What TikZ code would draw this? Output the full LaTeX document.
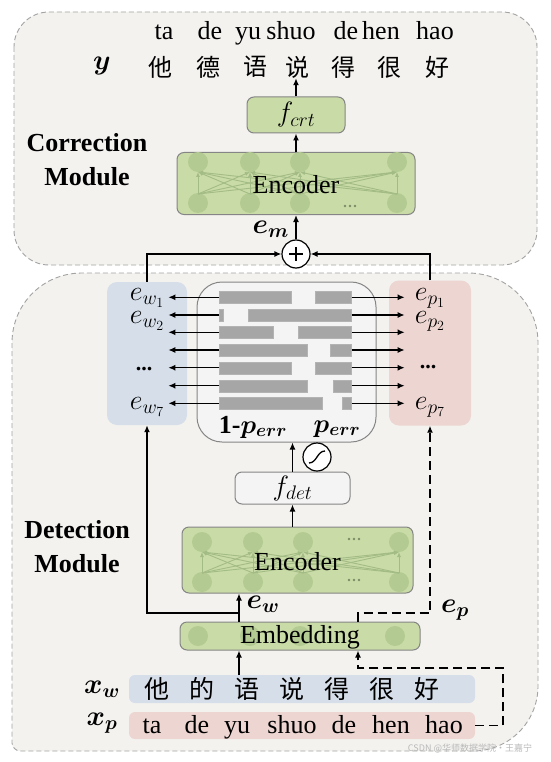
\RequirePackage{fix-cm}
\documentclass[tikz,border=0pt]{standalone}
\usepackage{amsmath,bm}
\usepackage{fontspec}
\setmainfont{Liberation Serif}
\newfontfamily\cjk{Noto Sans CJK SC}
\usetikzlibrary{arrows.meta,calc}
\definecolor{modbg}{HTML}{F3F2EF}
\definecolor{modline}{HTML}{A3A3A3}
\definecolor{greenf}{HTML}{C9DBA6}
\definecolor{greenc}{HTML}{B3CA93}
\definecolor{greena}{HTML}{A3BB85}
\definecolor{boxline}{HTML}{858585}
\definecolor{bluef}{HTML}{D5DEE9}
\definecolor{pinkf}{HTML}{EDD5D1}
\definecolor{barc}{HTML}{A6A6A6}
\definecolor{midf}{HTML}{F4F4F4}
\tikzset{
  module/.style={draw=modline, fill=modbg, line width=0.9pt, dash pattern=on 5pt off 3pt},
  greenbox/.style={draw=boxline, fill=greenf, line width=1pt, rounded corners=7pt, inner sep=0pt},
  whitebox/.style={draw=boxline, fill=midf, line width=1pt, rounded corners=7pt, inner sep=0pt},
  colbox/.style={rounded corners=10pt, inner sep=0pt},
  arr/.style={line width=1.4pt, -{Latex[length=7pt,width=6pt]}},
  darr/.style={line width=1.6pt, dash pattern=on 9pt off 5pt, -{Latex[length=7pt,width=6pt]}},
  encarr/.style={draw=greena, line width=0.9pt, -{Latex[length=5pt,width=4pt]}},
  bar/.style={fill=barc, draw=barc!85!white, line width=0.4pt, minimum height=12pt, inner sep=0pt},
  txt/.style={font=\fontsize{26}{30}\selectfont, inner sep=0pt},
  cjktxt/.style={font=\cjk\fontsize{24}{28}\selectfont, inner sep=0pt},
  mathlbl/.style={font=\fontsize{28}{32}\selectfont, inner sep=0pt},
  modlabel/.style={font=\bfseries\fontsize{26}{34}\selectfont, align=center, inner sep=0pt},
  circ/.style={circle, draw=black, fill=white, line width=1.2pt, minimum size=28pt, inner sep=0pt},
  dotc/.style={fill=greena!75!black}
}
\newcommand\encdots[2]{\foreach \dd in {-5,0,5}{\fill[dotc] (#1+\dd,#2) circle[radius=1.4];}}
\begin{document}
\begin{tikzpicture}[x=1pt,y=-1pt]
\useasboundingbox (0,0) rectangle (550,762);
\fill[white] (0,0) rectangle (550,762);

% module backgrounds
\draw[module, rounded corners=35pt] (14,12) rectangle (537,265);
\draw[module] (12,500) -- (12,343) .. controls (12,304) and (43,273) .. (82,273)
  -- (468,273) .. controls (507,273) and (538,304) .. (538,343)
  -- (538,686) .. controls (538,722) and (509,751) .. (473,751)
  -- (20,751) .. controls (16,751) and (12,747) .. (12,743) -- cycle;

\node[modlabel] (corr) at (87,160) {Correction\\Module};
\node[modlabel] (det) at (77,547) {Detection\\Module};

% output text
\foreach \x/\w [count=\i] in {164/ta,210/de,248/yu,291/shuo,346/de,381/hen,435/hao}
  \node[txt, anchor=base] (py\i) at (\x,40) {\w};
\foreach \x/\c [count=\i] in {160/他,208/德,255/语,297/说,343/得,389/很,437/好}
  \node[cjktxt] (y\i) at (\x,67) {\c};
\node[mathlbl] (ylbl) at (102,66) {$\bm{y}$};

% f_crt and encoder 1
\node[greenbox, minimum width=98pt, minimum height=36pt] (fcrt) at (296,115) {};
\node[mathlbl] (fcrtt) at (fcrt) {$f_{crt}$};
\node[greenbox, minimum width=238pt, minimum height=62pt] (enc1) at (296,183.5) {};
\foreach \x in {198,250,300,397} {
  \fill[greenc] (\x,162) circle[radius=10];
  \fill[greenc] (\x,203) circle[radius=10];
}
\foreach \a in {198,250,300,397}
  \foreach \b in {198,250,300,397}
    \draw[encarr] (\a,194) -- (\b,172);
\encdots{350}{206}
\node[txt] (enc1t) at (296,185) {Encoder};

% plus
\node[circ] (plus) at (296,254) {};
\draw[line width=1.4pt] ($(plus.center)+(-7,0)$) -- ($(plus.center)+(7,0)$);
\draw[line width=1.4pt] ($(plus.center)+(0,-7)$) -- ($(plus.center)+(0,7)$);

\draw[arr] (plus.north) -- (enc1.south);
\draw[arr] (enc1.north) -- (fcrt.south);
\draw[arr] (fcrt.north) -- (fcrt.north |- y4.south);
\node[mathlbl, anchor=east] (em) at (289,229) {$\bm{e_m}$};

% columns
\node[colbox, fill=bluef, minimum width=80pt, minimum height=143pt] (ewbox) at (147,353.5) {};
\node[colbox, fill=pinkf, minimum width=82pt, minimum height=145pt] (epbox) at (430,353) {};
\node[whitebox, rounded corners=25pt, minimum width=179pt, minimum height=160pt] (mid) at (286.5,362) {};

\draw[arr] (ewbox.north) |- (plus.west);
\draw[arr] (epbox.north) |- (plus.east);

\foreach \y/\l/\r [count=\i] in {297.3/291/315.7, 315/223.3/248.3, 332.3/272.7/298.3, 350/307.3/330, 367.7/291/315.7, 385.7/307.3/333.3, 403.3/322.3/342.3} {
  \pgfmathsetmacro\wl{\l-219.3}
  \pgfmathsetmacro\wr{351.7-\r}
  \node[bar, anchor=west, minimum width=\wl pt] (bl\i) at (219.3,\y) {};
  \node[bar, anchor=east, minimum width=\wr pt] (br\i) at (351.7,\y) {};
  \draw[arr] (bl\i.west) -- ++(-51,0);
  \draw[arr] (br\i.east) -- ++(53,0);
}

\node[mathlbl, anchor=base] (ew1) at (147,300) {$e_{w_1}$};
\node[mathlbl, anchor=base] (ew2) at (147,323) {$e_{w_2}$};
\node[txt, font=\bfseries\fontsize{22}{24}\selectfont, anchor=base] (ewd) at (144,370) {...};
\node[mathlbl, anchor=base] (ew7) at (147,409) {$e_{w_7}$};
\node[mathlbl, anchor=base] (ep1) at (430,300) {$e_{p_1}$};
\node[mathlbl, anchor=base] (ep2) at (430,323) {$e_{p_2}$};
\node[txt, font=\bfseries\fontsize{22}{24}\selectfont, anchor=base] (epd) at (428,368) {...};
\node[mathlbl, anchor=base] (ep7) at (430,409) {$e_{p_7}$};

\node[txt, anchor=base] (pneg) at (253,433) {\textbf{1-}$\bm{p_{err}}$};
\node[txt, anchor=base] (ppos) at (337,432) {$\bm{p_{err}}$};

% f_det and sigmoid
\node[whitebox, minimum width=115pt, minimum height=32pt] (fdet) at (292.5,488) {};
\node[mathlbl] (fdett) at (fdet) {$f_{det}$};
\draw[arr] (fdet.north) -- (fdet.north |- mid.south);
\node[circ] (sig) at (317,457) {};
\draw[line width=1.3pt] ($(sig.center)+(-8,6)$) to[out=0,in=180] ($(sig.center)+(8,-6)$);

% encoder 2
\node[greenbox, minimum width=231pt, minimum height=66pt] (enc2) at (297.5,560) {};
\foreach \x in {202,253,303,399} {
  \fill[greenc] (\x,542) circle[radius=10];
  \fill[greenc] (\x,582) circle[radius=10];
}
\foreach \a in {202,253,303,399}
  \foreach \b in {202,253,303,399}
    \draw[encarr] (\a,573) -- (\b,552);
\encdots{354}{539}
\encdots{354}{580}
\node[txt] (enc2t) at (297.5,562) {Encoder};
\draw[arr] (fdet.south |- enc2.north) -- (fdet.south);

% embedding
\node[greenbox, minimum width=240pt, minimum height=28pt] (emb) at (300,636) {};
\foreach \x in {198,250,300,395}
  \fill[greenc] (\x,636) circle[radius=10];
\node[txt] (embt) at (300,637) {Embedding};

\coordinate (ewx) at (239,613);
\coordinate (epx) at (358,613);
\draw[arr] (ewx |- emb.north) -- (ewx |- enc2.south);
\draw[arr] (ewx) -| (ewbox.south);
\draw[darr] (epx |- emb.north) -- (epx) -| (epbox.south);
\node[mathlbl] (ewl) at (263,604) {$\bm{e_w}$};
\node[mathlbl] (epl) at (455,610) {$\bm{e_p}$};

% inputs
\node[colbox, rounded corners=6pt, fill=bluef, minimum width=346pt, minimum height=28pt] (xw) at (302,689) {};
\node[colbox, rounded corners=6pt, fill=pinkf, minimum width=346pt, minimum height=27pt] (xp) at (302,725.5) {};
\foreach \x/\c [count=\i] in {157/他,202/的,247/语,292/说,337/得,382/很,427/好}
  \node[cjktxt, font=\cjk\fontsize{25}{28}\selectfont] (xw\i) at (\x,689) {\c};
\foreach \x/\w [count=\i] in {152/ta,197/de,237/yu,292/shuo,344/de,391/hen,444/hao}
  \node[txt, anchor=base] (xp\i) at (\x,733) {\w};
\node[mathlbl] (xwl) at (102,689) {$\bm{x_w}$};
\node[mathlbl] (xpl) at (102,723) {$\bm{x_p}$};

\draw[arr] (ewx |- xw.north) -- (ewx |- emb.south);
\coordinate (dp) at (503,668);
\draw[darr] (xp.east) -| (dp) -- (epx |- dp) -- (epx |- emb.south);

\node[font=\cjk\fontsize{9}{10}\selectfont, text=gray!55, inner sep=0pt] (wm) at (470,748) {CSDN @华师数据学院·王嘉宁};
\end{tikzpicture}
\end{document}
